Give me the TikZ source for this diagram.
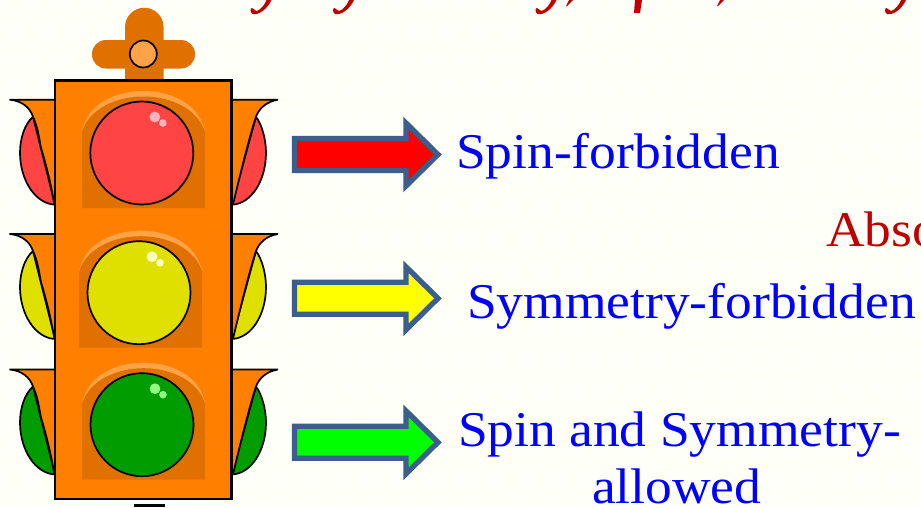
\documentclass[tikz,border=0pt]{standalone}
\usepackage{fontspec}
\setmainfont{Liberation Serif}
\newfontfamily\labelfont[FakeStretch=1.07]{Liberation Serif}
\definecolor{bgc}{HTML}{FEFFF7}
\definecolor{bodyc}{HTML}{FF8000}
\definecolor{darkc}{HTML}{E07000}
\definecolor{lightc}{HTML}{FFA348}
\definecolor{edgec}{HTML}{3B5E8C}
\definecolor{bluec}{HTML}{0000FF}
\definecolor{redt}{HTML}{C00000}
\definecolor{lensr}{HTML}{FF4444}
\definecolor{lensy}{HTML}{E0E000}
\definecolor{lensg}{HTML}{009C00}
\definecolor{glintr}{HTML}{FFB4BC}
\definecolor{glinty}{HTML}{FFFFC4}
\definecolor{glintg}{HTML}{90FF80}
\definecolor{arrowr}{HTML}{FF0000}
\definecolor{arrowy}{HTML}{FFFF00}
\definecolor{arrowg}{HTML}{00FF00}
\tikzset{
  outline/.style={draw=black,line width=1.7pt,miter limit=2},
  blockarrow/.style={draw=edgec,line width=5.3pt,miter limit=10,line join=miter},
  lab/.style={text=bluec,font=\labelfont\fontsize{50}{52}\selectfont,anchor=base west,inner sep=0pt,outer sep=0pt},
  absolab/.style={text=redt,font=\labelfont\fontsize{50}{52}\selectfont,anchor=base west,inner sep=0pt,outer sep=0pt}
}
% #1 y of wing top  #2 lens colour
\newcommand\lampunit[2]{%
  \begin{scope}[yshift=-#1pt]
    \filldraw[fill=#2,outline] (33,17) .. controls (24,25) and (20,40) .. (20,53) .. controls (20,80) and (35,104) .. (55,105) -- cycle;
    \filldraw[fill=#2,outline] (256,17) .. controls (262,25) and (266,40) .. (266,53) .. controls (266,80) and (252,104) .. (232,105) -- cycle;
    \fill[bodyc] (56,0) -- (9.5,0) .. controls (22,1) and (30,8) .. (33,17) .. controls (38,28) and (39,38) .. (41,48) .. controls (47,68) and (51,85) .. (54.5,105) -- (56,105) -- cycle;
    \draw[outline] (56,0) -- (9.5,0) .. controls (22,1) and (30,8) .. (33,17) .. controls (38,28) and (39,38) .. (41,48) .. controls (47,68) and (51,85) .. (54.5,105);
    \fill[bodyc] (230,0) -- (278,0) .. controls (266,2) and (259,9) .. (256,17) .. controls (250,35) and (240,75) .. (233,105) -- (230,105) -- cycle;
    \draw[outline] (230,0) -- (278,0) .. controls (266,2) and (259,9) .. (256,17) .. controls (250,35) and (240,75) .. (233,105);
  \end{scope}
}
% #1 cx  #2 cy  #3 lens  #4 glint
\newcommand\lampface[4]{%
  \begin{scope}[shift={(#1pt,-#2pt)}]
    \fill[lightc] (-59.8,-21) .. controls (-55,-48) and (-28,-62) .. (1.8,-62) .. controls (31,-62) and (58,-48) .. (63.2,-21) -- cycle;
    \fill[darkc] (-59.8,55) -- (-59.8,-21) .. controls (-53,-44) and (-26,-56.5) .. (1.8,-56.5) .. controls (29,-56.5) and (56,-44) .. (63.2,-21) -- (63.2,55) -- cycle;
    \filldraw[fill=#3,outline] (0,0) circle[radius=51.5];
    \fill[#4] (13,-36) circle[radius=5.4];
    \fill[#4] (21,-30) circle[radius=3.8];
  \end{scope}
}
\newcommand\bigarrow[2]{%
  \begin{scope}[yshift=-#1pt]
    \filldraw[fill=#2,blockarrow] (294.5,-16) -- (406,-16) -- (406,-31.5) -- (438,0) -- (406,31.5) -- (406,16) -- (294.5,16) -- cycle;
  \end{scope}
}
\newcommand\hook[1]{%
  \fill[redt,shift={(#1pt,0pt)}] (21,0) -- (16,0) .. controls (14,5) and (10,10) .. (6,11) .. controls (4,11.5) and (4,8) .. (1.5,8) .. controls (-0.5,8) and (-0.5,12.5) .. (2,14) .. controls (8,15.5) and (17,9) .. (21,0) -- cycle;
}
\begin{document}
\begin{tikzpicture}[x=1pt,y=-1pt]
\useasboundingbox (0,0) rectangle (921,507);
\clip (0,0) rectangle (921,507);
\fill[bgc] (0,0) rectangle (921,507);
\foreach \i in {0,...,30}{\foreach \j in {0,...,17}{
  \fill[white,opacity=.3] ({\i*31+mod(\j,2)*15},{\j*30}) circle[radius=11];
}}
% title fragments
\hook{250.5}\hook{333}\hook{535.5}\hook{885}
\fill[redt] (569,0) -- (573,0) -- (567,6) -- (566,6) -- cycle;
\fill[redt] (720,0) -- (724,0) -- (718,6) -- (717,6) -- cycle;
\fill[redt] (635,0) -- (642,0) -- (640,13) -- (634,13) -- cycle;
% pole stub
\fill[black] (133.5,503.5) rectangle (165,507);
% cap
\fill[darkc,rounded corners=14pt] (92,40) rectangle (195,68.5);
\fill[darkc] (125,85) -- (125,27) arc[start angle=180,end angle=360,radius=19.25] -- (163.5,85) -- cycle;
\filldraw[fill=lightc,outline] (143.3,54) circle[radius=13.5];
% wings and lenses
\lampunit{99.7}{lensr}
\lampunit{234}{lensy}
\lampunit{369.5}{lensg}
% body
\filldraw[fill=bodyc,draw=black,line width=2.4pt] (55,80.5) rectangle (231.5,499);
% lamps
\lampface{141.8}{153}{lensr}{glintr}
\lampface{139}{292.7}{lensy}{glinty}
\lampface{142}{424.7}{lensg}{glintg}
% arrows
\bigarrow{154.5}{arrowr}
\bigarrow{298.3}{arrowy}
\bigarrow{442.3}{arrowg}
% labels
\node[lab] (spinforb) at (456,168.5) {Spin-forbidden};
\node[absolab] (abso) at (826,246.7) {Abso};
\node[lab] (symforb) at (467,318) {Symmetry-forbidden};
\node[lab] (spinsym) at (458,446) {Spin and Symmetry-};
\node[lab] (allowed) at (592,503) {allowed};
\end{tikzpicture}
\end{document}
